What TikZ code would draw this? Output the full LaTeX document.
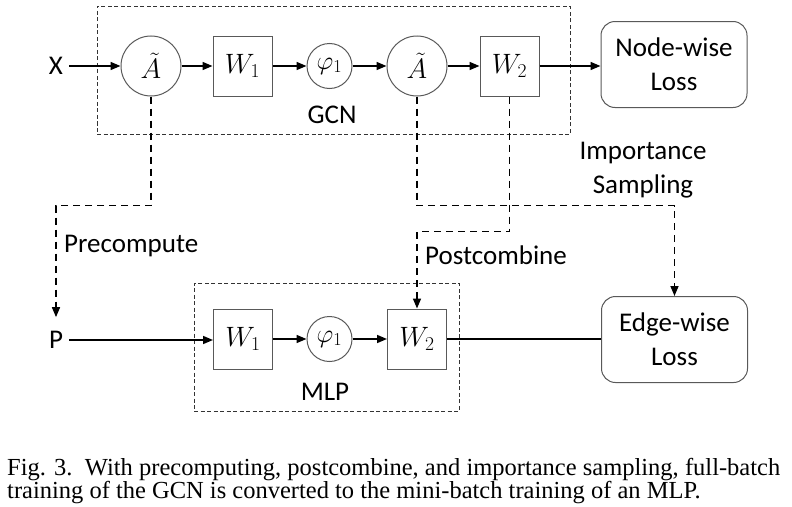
\documentclass[tikz,border=0pt]{standalone}
\usepackage{fix-cm}
\usepackage{fontspec}
\setmainfont{Carlito}
\newfontfamily\capfont{Liberation Serif}
\usetikzlibrary{arrows.meta,calc}
\begin{document}
\begin{tikzpicture}[x=1pt,y=-1pt,
  txt/.style={font=\fontsize{27}{34}\selectfont, inner sep=0pt},
  circ/.style={circle, draw=black!65, line width=1pt, minimum size=60pt, inner sep=0pt, font=\fontsize{28}{32}\selectfont},
  scirc/.style={circle, draw=black!65, line width=1pt, minimum size=45pt, inner sep=0pt, font=\fontsize{26}{30}\selectfont},
  sq/.style={rectangle, draw=black!65, line width=1pt, minimum width=59pt, minimum height=60pt, inner sep=0pt, font=\fontsize{28}{32}\selectfont},
  loss/.style={rectangle, draw=black!65, rounded corners=14pt, line width=1pt, minimum width=146pt, minimum height=86pt, inner sep=0pt, align=center, font=\fontsize{27}{34}\selectfont},
  grp/.style={rectangle, draw=black!80, line width=0.9pt, dash pattern=on 4pt off 2.5pt, inner sep=0pt},
  arr/.style={line width=1.6pt, -{Triangle[length=10pt,width=8pt]}},
  darr/.style={line width=1.6pt, dash pattern=on 7pt off 5pt, -{Triangle[length=10pt,width=8pt]}},
  capt/.style={font=\capfont\fontsize{24.5}{19.5}\selectfont, inner sep=0pt, anchor=north west, align=justify, text width=773pt}
]
\useasboundingbox (0,0) rectangle (792,506);
% group boxes
\node[grp, minimum width=473pt, minimum height=128pt] (gcnbox) at (333.5,70) {};
\node[grp, minimum width=265pt, minimum height=128pt] (mlpbox) at (326.5,347) {};
% top row
\node[txt] (X) at (56,66) {X};
\node[circ] (A1) at (151,66) {$\tilde{A}$};
\node[sq] (W1) at (242.5,66) {$W_1$};
\node[scirc] (phi1) at (329.5,66) {$\varphi_1$};
\node[circ] (A2) at (417,66) {$\tilde{A}$};
\node[sq] (W2) at (509.5,66) {$W_2$};
\node[loss] (NL) at (674,64.5) {Node-wise\\Loss};
\node[txt] (GCN) at (332,115) {GCN};
% bottom row
\node[txt] (P) at (56,340) {P};
\node[sq] (W1b) at (243,339) {$W_1$};
\node[scirc] (phi1b) at (329.5,339) {$\varphi_1$};
\node[sq] (W2b) at (417,339) {$W_2$};
\node[loss] (EL) at (674.5,339.5) {Edge-wise\\Loss};
\node[txt] (MLP) at (325,392) {MLP};
% labels
\node[txt, anchor=west] (pre) at (64,246) {Precompute};
\node[txt, anchor=west] (post) at (425,255) {Postcombine};
\node[txt, align=center] (imp) at (643,170) {Importance\\Sampling};
% solid arrows
\draw[arr, shorten <=6pt] (X.east) -- (A1.west);
\draw[arr] (A1.east) -- (W1.west);
\draw[arr] (W1.east) -- (phi1.west);
\draw[arr] (phi1.east) -- (A2.west);
\draw[arr] (A2.east) -- (W2.west);
\draw[arr] (W2.east) -- (W2.east -| NL.west);
\draw[arr, shorten <=6pt] (P.east) -- (P.east -| W1b.west);
\draw[arr] (W1b.east) -- (phi1b.west);
\draw[arr] (phi1b.east) -- (W2b.west);
\draw[line width=1.6pt] (W2b.east) -- (W2b.east -| EL.west);
% dashed connectors
\draw[darr, shorten >=14pt] (A1.south) -- ++(0,109) -| (P.north);
\draw[darr] (A2.south) -- ++(0,109) -| (EL.north);
\draw[darr] (W2.south) -- ++(0,135) -| (W2b.north);
% caption
\node[capt] (cap) at (7,458) {Fig. 3.\ \ With precomputing, postcombine, and importance sampling, full-batch training of the GCN is converted to the mini-batch training of an MLP.};
\end{tikzpicture}
\end{document}
